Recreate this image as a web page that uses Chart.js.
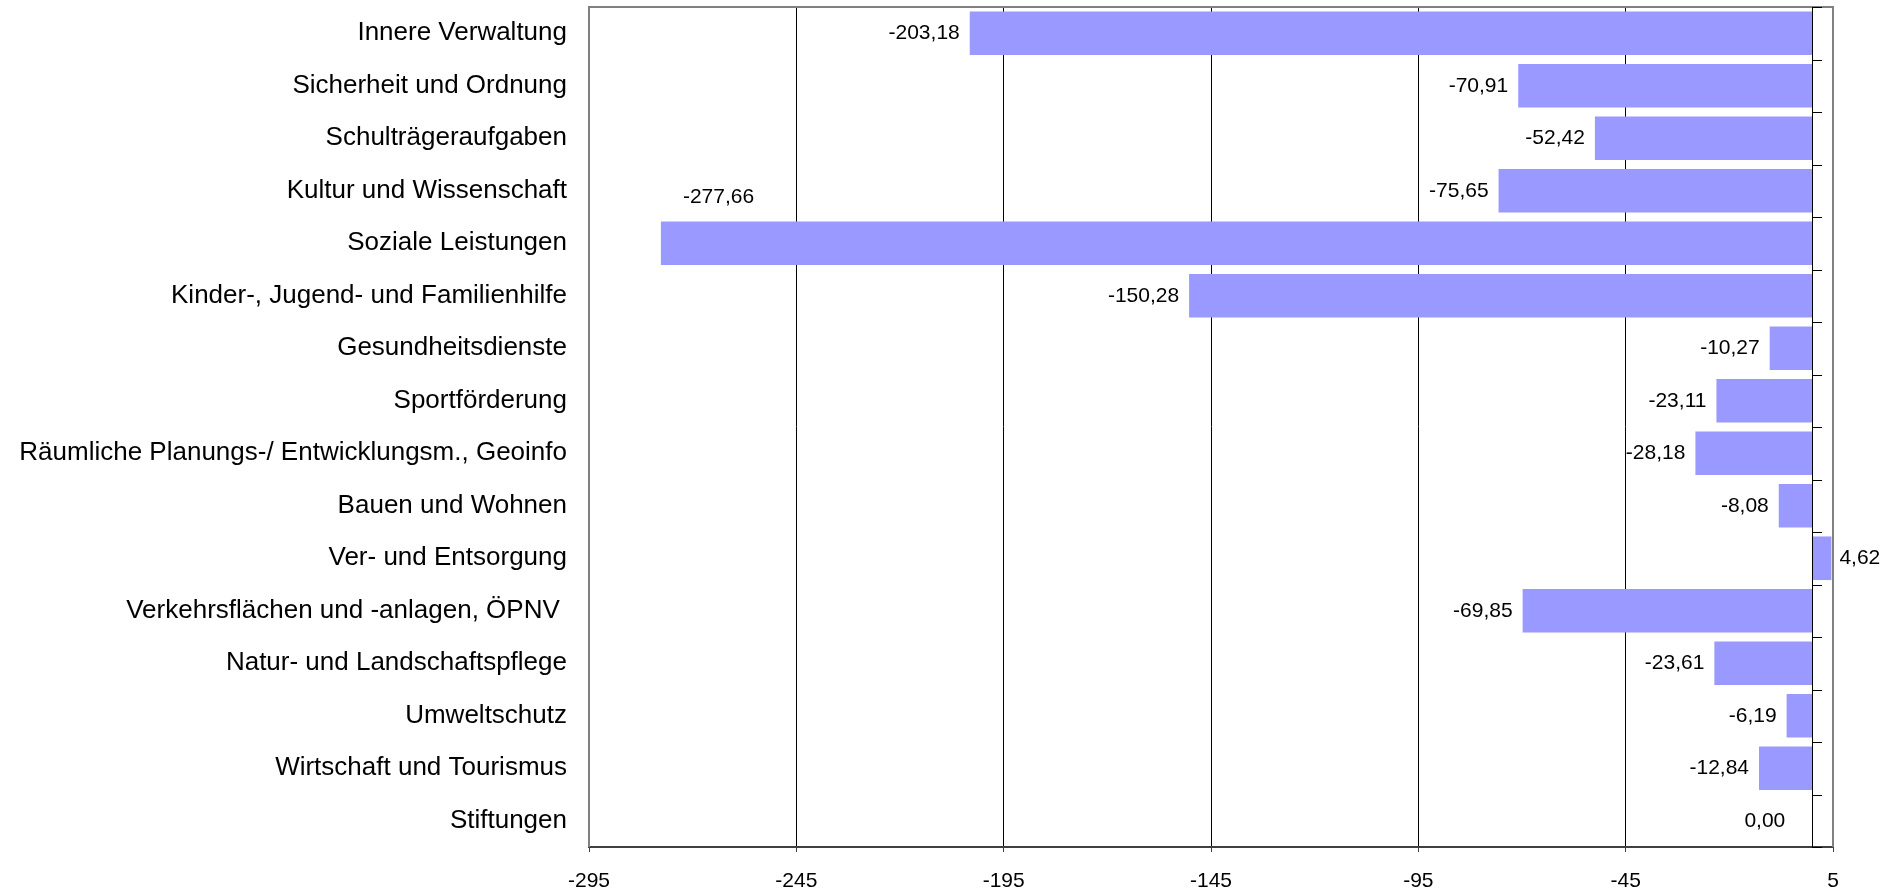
<!DOCTYPE html>
<html>
<head>
<meta charset="utf-8">
<script src="https://cdn.jsdelivr.net/npm/chart.js@4.4.1/dist/chart.umd.min.js"></script>
<style>
    html, body { margin: 0; padding: 0; background: #fff; }
    #wrap { width: 1901px; height: 890px; }
</style>
</head>
<body>
<div id="wrap"><canvas id="barChart"></canvas></div>
<script>
const categories = [
    "Innere Verwaltung",
    "Sicherheit und Ordnung",
    "Schulträgeraufgaben",
    "Kultur und Wissenschaft",
    "Soziale Leistungen",
    "Kinder-, Jugend- und Familienhilfe",
    "Gesundheitsdienste",
    "Sportförderung",
    "Räumliche Planungs-/ Entwicklungsm., Geoinfo",
    "Bauen und Wohnen",
    "Ver- und Entsorgung",
    "Verkehrsflächen und -anlagen, ÖPNV ",
    "Natur- und Landschaftspflege",
    "Umweltschutz",
    "Wirtschaft und Tourismus",
    "Stiftungen",
];

const values = [-203.18, -70.91, -52.42, -75.65, -277.66, -150.28, -10.27, -23.11, -28.18, -8.08, 4.62, -69.85, -23.61, -6.19, -12.84, 0.00];

const xTicks = [-295, -245, -195, -145, -95, -45, 5];

const colorBar = "#9999ff", colorFrame = "#808080", colorAxis = "#404040";
const fontName = "'Liberation Sans', Arial, sans-serif";

const formatValue = (v) => v.toFixed(2).replace(".", ",");

// frame, zero axis with its tick marks, value labels
const frameAndLabels = {
    id: "frameAndLabels",
    afterDatasetsDraw(chart) {
        const { ctx, chartArea: area, scales: { x, y } } = chart;
        const zero = Math.round(x.getPixelForValue(0));
        const step = y.getPixelForValue(1) - y.getPixelForValue(0);

        ctx.save();
        ctx.strokeStyle = colorFrame;
        ctx.lineWidth = 2;
        ctx.beginPath();
        ctx.moveTo(area.left, area.bottom);
        ctx.lineTo(area.left, area.top);
        ctx.lineTo(area.right, area.top);
        ctx.lineTo(area.right, area.bottom);
        ctx.stroke();

        ctx.strokeStyle = "#000";
        ctx.lineWidth = 1;
        ctx.beginPath();
        ctx.moveTo(zero + 0.5, area.top);
        ctx.lineTo(zero + 0.5, area.bottom);
        for (let i = 0; i <= categories.length; i++) {
            const yy = Math.round(y.getPixelForValue(i) - step / 2) + 0.5;
            ctx.moveTo(zero, yy);
            ctx.lineTo(zero + 10, yy);
        }
        ctx.stroke();

        ctx.fillStyle = "#000";
        ctx.font = "21px " + fontName;
        ctx.textBaseline = "middle";
        values.forEach((v, i) => {
            const end = x.getPixelForValue(v);
            const mid = y.getPixelForValue(i);
            const text = formatValue(v);
            const w = ctx.measureText(text).width;
            if (v > 0) {
                ctx.textAlign = "left";
                ctx.fillText(text, end + 8, mid);
            } else if (v === 0) {
                ctx.textAlign = "right";
                ctx.fillText(text, end - 27, mid);
            } else if (end - 10 - w < area.left) {
                ctx.textAlign = "left";
                ctx.fillText(text, end + 22, mid - 46);
            } else {
                ctx.textAlign = "right";
                ctx.fillText(text, end - 10, mid);
            }
        });
        ctx.restore();
    },
};

const barChart = new Chart(document.getElementById("barChart"), {
    type: "bar",
    data: {
        labels: categories,
        datasets: [
            {
                data: values,
                backgroundColor: colorBar,
                borderWidth: 0,
                barPercentage: 0.83,
                categoryPercentage: 1,
            },
        ],
    },
    options: {
        indexAxis: "y",
        responsive: true,
        maintainAspectRatio: false,
        animation: false,
        layout: { padding: { top: 7, right: 68, left: 0, bottom: 0 } },
        plugins: {
            legend: { display: false },
            tooltip: { enabled: false },
        },
        scales: {
            x: {
                min: -295,
                max: 5,
                afterBuildTicks: (scale) => {
                    scale.ticks = xTicks.map((v) => ({ value: v }));
                },
                afterFit: (scale) => { scale.height = 43; },
                ticks: {
                    color: "#000",
                    font: { family: fontName, size: 21 },
                    padding: 17,
                    maxRotation: 0,
                    autoSkip: false,
                    callback: (v) => String(v),
                },
                grid: {
                    color: (c) => (c.tick && c.tick.value > -295 && c.tick.value < 5) ? "#000" : "rgba(0,0,0,0)",
                    lineWidth: 1,
                    drawTicks: true,
                    tickLength: 5,
                    tickColor: colorAxis,
                },
                border: { display: true, color: colorAxis, width: 2 },
            },
            y: {
                afterFit: (scale) => {
                    scale.width = 589;
                    scale.paddingTop = 0;
                    scale.paddingBottom = 0;
                },
                ticks: {
                    color: "#000",
                    font: { family: fontName, size: 26 },
                    padding: 22,
                    autoSkip: false,
                },
                grid: { display: false, drawTicks: false },
                border: { display: false },
            },
        },
    },
    plugins: [frameAndLabels],
});
</script>
</body>
</html>
